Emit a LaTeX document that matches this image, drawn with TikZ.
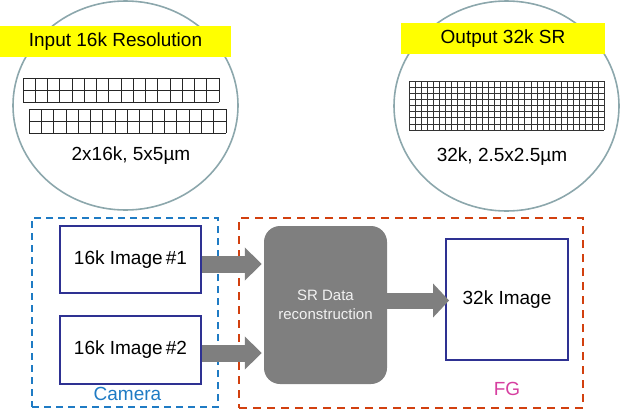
\documentclass[tikz,border=0pt]{standalone}
\usepackage{fontspec}
\setmainfont{Liberation Sans}
\usetikzlibrary{arrows.meta,calc}
\definecolor{ringc}{HTML}{8CA7AC}
\definecolor{camblue}{HTML}{1F7BC4}
\definecolor{fgred}{HTML}{D2400F}
\definecolor{fgmag}{HTML}{D63FA0}
\definecolor{boxnavy}{HTML}{2E3192}
\definecolor{blockgray}{HTML}{7F7F7F}
\definecolor{ybar}{HTML}{FFFF00}
\tikzset{
  ring/.style={draw=ringc, line width=1.6pt},
  ylab/.style={fill=ybar, inner sep=0pt, font=\fontsize{19}{22}\selectfont},
  txt/.style={inner sep=0pt, font=\fontsize{19}{22}\selectfont},
  gridl/.style={draw=black!85, line width=0.8pt},
  gridf/.style={draw=black!80, line width=0.6pt},
  cambox/.style={draw=camblue, line width=2pt, dash pattern=on 7pt off 5pt, inner sep=0pt},
  fgbox/.style={draw=fgred, line width=2pt, dash pattern=on 8pt off 6pt, inner sep=0pt},
  imgbox/.style={draw=boxnavy, line width=1.8pt, fill=white, inner sep=0pt, font=\fontsize{19}{22}\selectfont},
  srbox/.style={fill=blockgray, rounded corners=16pt, inner sep=0pt, text=white!95!black, align=center, font=\fontsize{15}{19}\selectfont},
  blockarrow/.style={draw=blockgray, line width=17pt, -{Triangle[length=17pt,width=32pt]}},
}
\begin{document}
\begin{tikzpicture}[x=1pt,y=-1pt]
\useasboundingbox (0,0) rectangle (620,418);
% top circles
\draw[ring] (125.5,105.5) ellipse [x radius=112.5pt, y radius=104.5pt];
\draw[ring] (506.5,106) ellipse [x radius=112.5pt, y radius=105pt];
% yellow labels
\node[ylab, minimum width=231pt, minimum height=31pt] (inlab) at (115.5,41.5) {Input 16k Resolution};
\node[ylab, minimum width=204pt, minimum height=31pt] (outlab) at (503,38.5) {Output 32k SR};
% left grids
\foreach \i in {0,...,16} \draw[gridl] ({23+\i*12.25},78) -- ++(0,24);
\foreach \j in {0,1,2} \draw[gridl] (23,{78+\j*12}) -- ++(196,0);
\foreach \i in {0,...,16} \draw[gridl] ({29+\i*12.31},109) -- ++(0,24);
\foreach \j in {0,1,2} \draw[gridl] (29,{109+\j*12}) -- ++(197,0);
% right grid
\foreach \i in {0,...,32} \draw[gridf] ({409+\i*6.094},81) -- ++(0,49);
\foreach \j in {0,...,8} \draw[gridf] (409,{81+\j*6.125}) -- ++(195,0);
\node[txt] (inres) at (131,156) {2x16k, 5x5µm};
\node[txt] (outres) at (502,157) {32k, 2.5x2.5µm};
% dashed groups
\node[cambox, minimum width=186pt, minimum height=189pt] (cam) at (125,312.5) {};
\node[txt, text=camblue] (camlab) at (127.5,394) {Camera};
\node[fgbox, minimum width=344pt, minimum height=190pt] (fg) at (411,313) {};
\node[txt, text=fgmag] (fglab) at (507,389) {FG};
% blocks
\node[imgbox, minimum width=141pt, minimum height=67pt] (img1) at (130.5,259.5) {16k Image\,\#1};
\node[imgbox, minimum width=141pt, minimum height=68pt] (img2) at (130.5,350) {16k Image\,\#2};
\node[srbox, minimum width=123pt, minimum height=158pt] (sr) at (325.5,305) {SR Data\\reconstruction};
\node[imgbox, minimum width=122pt, minimum height=121pt] (big) at (507,299.5) {32k Image};
% arrows
\draw[blockarrow, shorten >=2pt] ([yshift=-4.5pt]img1.east) -- ([yshift=-4.5pt]img1.east -| sr.west);
\draw[blockarrow, shorten >=2pt] ([yshift=-3pt]img2.east) -- ([yshift=-3pt]img2.east -| sr.west);
\draw[blockarrow, line width=16pt, -{Triangle[length=16pt,width=33pt]}, shorten >=-4pt] ([yshift=4.5pt]sr.east) -- ([yshift=4.5pt]sr.east -| big.west);
\end{tikzpicture}
\end{document}
